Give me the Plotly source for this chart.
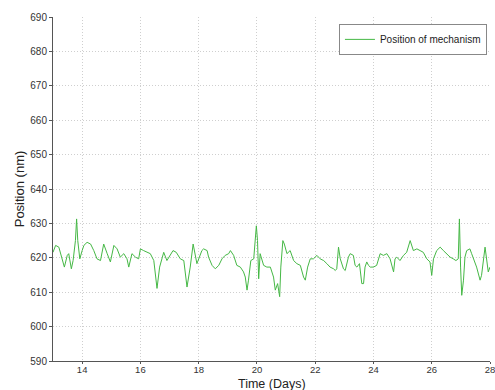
import plotly.graph_objects as go

days = [13.0, 13.09, 13.2, 13.31, 13.39, 13.49, 13.54, 13.63, 13.69, 13.77, 13.81, 13.85, 13.92,
        14.0, 14.06, 14.17, 14.29, 14.4, 14.51, 14.63, 14.74, 14.86, 14.97, 15.09, 15.2, 15.31,
        15.43, 15.54, 15.6, 15.71, 15.83, 15.94, 16.0, 16.11, 16.23, 16.34, 16.46, 16.57, 16.66,
        16.8, 16.91, 17.03, 17.12, 17.23, 17.37, 17.49, 17.6, 17.71, 17.81, 17.94,
        18.11, 18.17, 18.29, 18.34, 18.46, 18.57, 18.69, 18.8, 18.91, 19.03, 19.09, 19.2, 19.31,
        19.43, 19.54, 19.6, 19.66, 19.71, 19.79, 19.89, 19.98, 20.02, 20.06, 20.11, 20.23, 20.34,
        20.46, 20.57, 20.63, 20.71, 20.78, 20.82, 20.89, 20.94, 21.03, 21.14, 21.26, 21.37, 21.49,
        21.6, 21.66, 21.74, 21.83, 21.94, 22.06, 22.17, 22.29, 22.4, 22.51, 22.63, 22.69, 22.74,
        22.8, 22.86, 22.97, 23.03, 23.14, 23.2, 23.31, 23.37, 23.43, 23.52, 23.6, 23.66, 23.71,
        23.77, 23.83, 23.89, 24.0, 24.11, 24.23, 24.34, 24.46, 24.57, 24.63, 24.69, 24.74, 24.8,
        24.91, 25.03, 25.14, 25.26, 25.37, 25.49, 25.6, 25.71, 25.83, 25.94, 26.0, 26.06, 26.17,
        26.29, 26.4, 26.51, 26.63, 26.74, 26.83, 26.91, 26.95, 26.99, 27.03, 27.09, 27.14, 27.2,
        27.31, 27.37, 27.43, 27.54, 27.66, 27.71, 27.83, 27.94, 28.0]

position = [621.6, 623.6, 623.1, 619.7, 617.3, 620.7, 621.2, 616.8, 619.2, 625.0, 631.3, 625.0, 619.7,
            622.1, 623.6, 624.5, 624.0, 622.1, 619.7, 619.2, 624.0, 621.2, 618.8, 623.6, 622.6, 620.2,
            621.2, 619.7, 617.3, 621.2, 620.2, 619.7, 622.6, 622.1, 621.6, 621.2, 619.2, 611.1, 617.3,
            621.6, 619.2, 620.7, 622.1, 621.6, 619.7, 619.2, 611.5, 617.3, 624.0, 618.3,
            622.1, 622.6, 622.1, 620.2, 617.8, 616.8, 617.8, 619.7, 620.7, 621.2, 622.1, 620.7, 617.8,
            617.3, 615.9, 614.4, 610.6, 613.5, 619.2, 619.7, 629.3, 625.0, 613.9, 621.2, 617.8, 617.3,
            617.3, 614.4, 610.6, 612.5, 608.7, 617.3, 625.0, 624.0, 621.2, 622.1, 619.2, 618.3, 617.8,
            614.4, 613.5, 617.3, 619.7, 619.7, 620.7, 619.7, 619.2, 618.3, 617.3, 616.8, 616.3, 616.8,
            623.1, 619.7, 616.8, 616.3, 620.2, 621.2, 620.7, 617.8, 617.3, 618.3, 612.5, 612.5, 617.3,
            618.8, 617.8, 617.3, 617.3, 617.8, 621.2, 620.7, 621.2, 619.7, 617.3, 615.9, 619.7, 620.2,
            619.2, 620.7, 621.6, 625.0, 622.1, 622.6, 622.1, 621.6, 619.7, 618.8, 614.9, 619.7, 622.1,
            623.1, 622.1, 621.2, 620.2, 619.7, 619.2, 619.7, 631.3, 617.3, 609.1, 613.5, 620.2, 622.1,
            622.6, 621.2, 619.7, 617.3, 613.5, 614.9, 623.1, 615.9, 617.3]

x_ticks = [14, 16, 18, 20, 22, 24, 26, 28]
y_ticks = [590, 600, 610, 620, 630, 640, 650, 660, 670, 680, 690]

fig = go.Figure()
fig.add_trace(go.Scatter(
    x=days, y=position, mode="lines", name="Position of mechanism",
    line=dict(color="#45b845", width=1),
))

axis_common = dict(
    showgrid=True, gridcolor="#cfcfcf", griddash="1px,2px", gridwidth=1,
    showline=True, linecolor="#555555", linewidth=1, mirror=False,
    ticks="outside", tickcolor="#555555",
    zeroline=False, ticklabeloverflow="allow",
)

fig.update_layout(
    width=495, height=390,
    margin=dict(l=53, r=5, t=17, b=29, autoexpand=False),
    paper_bgcolor="white", plot_bgcolor="white",
    font=dict(family="Liberation Sans, Arial, sans-serif", color="#222222"),
    xaxis=dict(range=[13, 28], tickvals=x_ticks, automargin=False, ticklen=2,
               ticklabelstandoff=-2,
               tickfont=dict(family="Liberation Sans, Arial, sans-serif", size=9.5, color="#333333"),
               **axis_common),
    yaxis=dict(range=[590, 690], tickvals=y_ticks, automargin=False, ticklen=3,
               tickfont=dict(family="Liberation Sans, Arial, sans-serif", size=10, color="#333333"),
               title=dict(text="Position (nm)", font=dict(size=13, color="#222222"), standoff=2),
               **axis_common),
    showlegend=True,
    legend=dict(x=0.993, y=0.98, xanchor="right", yanchor="top",
                bgcolor="white", bordercolor="#888888", borderwidth=1,
                font=dict(size=10, color="#222222"),
                itemwidth=30, tracegroupgap=0),
    annotations=[dict(text="Time (Days)", xref="paper", yref="paper", x=0.5, y=-29 / 344,
                      xanchor="center", yanchor="bottom", showarrow=False, borderpad=0,
                      yshift=-2, font=dict(size=12.5, color="#222222"))],
)

fig.write_html("out.html", config={"displayModeBar": False},
               post_script="document.body.style.margin='0px';document.body.style.overflow='hidden';")
